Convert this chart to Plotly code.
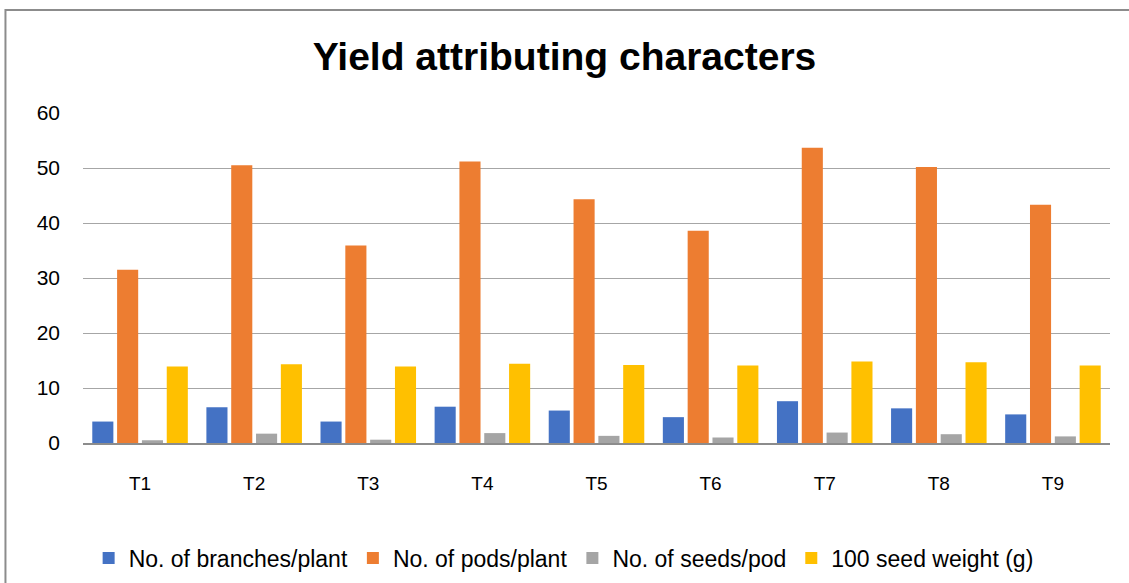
import plotly.graph_objects as go

categories = ["T1", "T2", "T3", "T4", "T5", "T6", "T7", "T8", "T9"]
branches = [3.9, 6.5, 3.9, 6.6, 5.9, 4.7, 7.6, 6.3, 5.2]
pods = [31.5, 50.5, 35.9, 51.2, 44.3, 38.6, 53.7, 50.2, 43.3]
seeds = [0.5, 1.7, 0.6, 1.8, 1.3, 1.0, 1.9, 1.6, 1.2]
weight = [13.9, 14.3, 13.9, 14.4, 14.2, 14.1, 14.8, 14.7, 14.1]

series_names = ["No. of branches/plant", "No. of pods/plant", "No. of seeds/pod", "100 seed weight (g)"]
colors = ["#4472C4", "#ED7D31", "#A5A5A5", "#FFC000"]

FONT = "Liberation Sans, Arial, sans-serif"

fig = go.Figure()
for name, vals, col in zip(series_names, [branches, pods, seeds, weight], colors):
    fig.add_trace(go.Bar(x=categories, y=vals, name=name, marker=dict(color=col, line=dict(width=0))))

fig.update_layout(
    width=1129, height=583,
    paper_bgcolor="white", plot_bgcolor="white",
    margin=dict(l=83, r=19, t=113, b=140, autoexpand=False),
    barmode="group", bargap=0.13, bargroupgap=0.15,
    title=dict(text="<b>Yield attributing characters</b>", x=0.5, xanchor="center",
               yref="container", y=1 - 56 / 583, yanchor="middle",
               font=dict(family=FONT, size=39, color="black")),
    font=dict(family=FONT, size=18, color="black"),
    legend=dict(orientation="h", x=0.468, xanchor="center", yref="container", y=1 - 558 / 583,
                yanchor="middle", font=dict(family=FONT, size=23, color="black"),
                itemwidth=30, traceorder="normal"),
    showlegend=True,
)
fig.update_yaxes(range=[0, 60], dtick=10, showgrid=True, gridcolor="#A6A6A6", gridwidth=1,
                 zeroline=False, showline=False, ticks="", ticklabelstandoff=22,
                 tickfont=dict(family=FONT, size=21, color="black"))
fig.update_xaxes(showline=True, linecolor="#8C8C8C", linewidth=1.5, ticks="",
                 tickfont=dict(family=FONT, size=19, color="black"),
                 ticklabelstandoff=22)
fig.add_shape(type="rect", xref="paper", yref="paper", x0=-0.0755, x1=1.05, y0=-0.6, y1=1.312,
              line=dict(color="#8C8C8C", width=2), fillcolor="rgba(0,0,0,0)", layer="below")

fig.write_html("out.html", config={"displayModeBar": False},
               post_script="document.body.style.margin='0';document.body.style.overflow='hidden';")
